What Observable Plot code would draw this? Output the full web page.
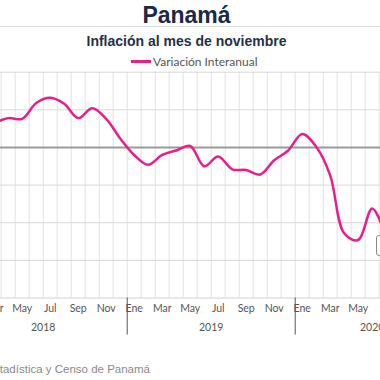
<!DOCTYPE html>
<html>
<head>
<meta charset="utf-8">
<script src="https://cdn.jsdelivr.net/npm/d3@7"></script>
<script src="https://cdn.jsdelivr.net/npm/@observablehq/plot@0.6"></script>
<style>
  html, body { margin: 0; padding: 0; background: #fff; }
  body { width: 380px; height: 380px; overflow: hidden; position: relative; }
  .abs { position: absolute; white-space: nowrap; }
  #title { left: 0; width: 373px; top: 2px; text-align: center; font: bold 23px "Liberation Sans", Arial, sans-serif; color: #1c2a47; }
  #rule { left: 0; width: 380px; top: 26px; height: 1px; background: #dcdcdc; }
  #subtitle { left: 0; width: 373px; top: 33px; text-align: center; font: bold 14px "Liberation Sans", Arial, sans-serif; color: #253148; }
  #legend { left: 131px; top: 54px; font: 12px Lato, sans-serif; color: #555; display: flex; align-items: center; }
  #legend .sw { width: 20px; height: 2.5px; background: #e91e8c; margin-right: 2px; }
  #chart { left: -60px; top: 60px; width: 500px; height: 290px; }
  #chart svg { max-width: none !important; width: 500px; height: 290px; }
  #caption { right: 230px; top: 363px; font: 11.5px "Liberation Sans", Arial, sans-serif; color: #8a8a8a; }
  #tip { left: 376px; top: 235px; width: 60px; height: 19px; border: 1px solid #8a8a8a; border-radius: 3px; background: rgba(255,255,255,0.9); }
</style>
</head>
<body>
<div id="title" class="abs">Panamá</div>
<div id="rule" class="abs"></div>
<div id="subtitle" class="abs">Inflación al mes de noviembre</div>
<div id="legend" class="abs"><span class="sw"></span><span>Variación Interanual</span></div>
<div id="chart" class="abs"></div>
<div id="tip" class="abs"></div>
<div id="caption" class="abs">Fuente: Instituto Nacional de Estadística y Censo de Panamá</div>
<script>
// Month names (Spanish abbreviations) and years shown on the axis
const monthNames = ["Ene","Feb","Mar","Abr","May","Jun","Jul","Ago","Sep","Oct","Nov","Dic"];
const years = [2018, 2019, 2020];
// Series runs to Nov 2020 (month index 34, index 0 = Ene 2018)
const lastIndex = 34;
// First visible month of the series: index 2 = Mar 2018
const startIndex = 2;
// Variación interanual (%), monthly, from Mar 2018 (visible part)
const values = [0.32, 0.39, 0.38, 0.59, 0.66, 0.58, 0.39, 0.52, 0.38, 0.12,
                -0.10, -0.23, -0.10, -0.04, 0.02, -0.25, -0.12, -0.29, -0.30, -0.36,
                -0.17, -0.04, 0.18, 0.01, -0.37, -1.14, -1.23, -0.81, -1.20];
// y grid values
const yGrid = [1, 0.5, -0.5, -1, -1.5];
const yMin = -2, yMax = 1;

const series = values.map((v, i) => ({m: startIndex + i, v}));
const allMonths = d3.range(-2, lastIndex + 2);
const boundaries = allMonths.map(m => m - 0.5);
const monthTicks = allMonths.filter(m => m >= 0 && m <= lastIndex && m % 2 === 0);
// each year label is centred over the months that the year has in the series
const yearCenters = years.map((y, i) => (i * 12 + Math.min(i * 12 + 11, lastIndex)) / 2);
const yearBounds = years.slice(1).map((y, i) => (i + 1) * 12 - 0.5);

const chart = Plot.plot({
  width: 500,
  height: 290,
  marginLeft: 0,
  marginRight: 0,
  marginTop: 11.7,
  marginBottom: 52.5,
  x: {type: "linear", domain: [-1.836, 33.879], axis: null, label: null},
  y: {domain: [yMin, yMax], axis: null, label: null},
  style: {fontFamily: "Lato, sans-serif", fontSize: "10.5px", color: "#555", background: "transparent", overflow: "visible"},
  marks: [
    Plot.ruleX(boundaries, {stroke: "#e3e3e3", strokeWidth: 1}),
    Plot.ruleY(yGrid, {stroke: "#d8d8d8", strokeWidth: 1}),
    Plot.ruleY([yMin], {stroke: "#d0d0d0", strokeWidth: 1}),
    Plot.ruleY([0], {stroke: "#9a9a9a", strokeWidth: 2}),
    Plot.lineY(series, {x: "m", y: "v", curve: "catmull-rom", stroke: "#e91e8c", strokeWidth: 2.5}),
    Plot.axisX(monthTicks, {tickSize: 0, tickPadding: 7, tickFormat: m => monthNames[m % 12], fill: "#555", label: null}),
    Plot.axisX(yearCenters, {tickSize: 0, tickPadding: 26, tickFormat: c => String(years[Math.floor(c / 12)]), fill: "#555", label: null}),
    Plot.axisX(yearBounds, {tickSize: 37, tickFormat: () => "", stroke: "#555", label: null})
  ]
});
document.getElementById("chart").appendChild(chart);
</script>
</body>
</html>
